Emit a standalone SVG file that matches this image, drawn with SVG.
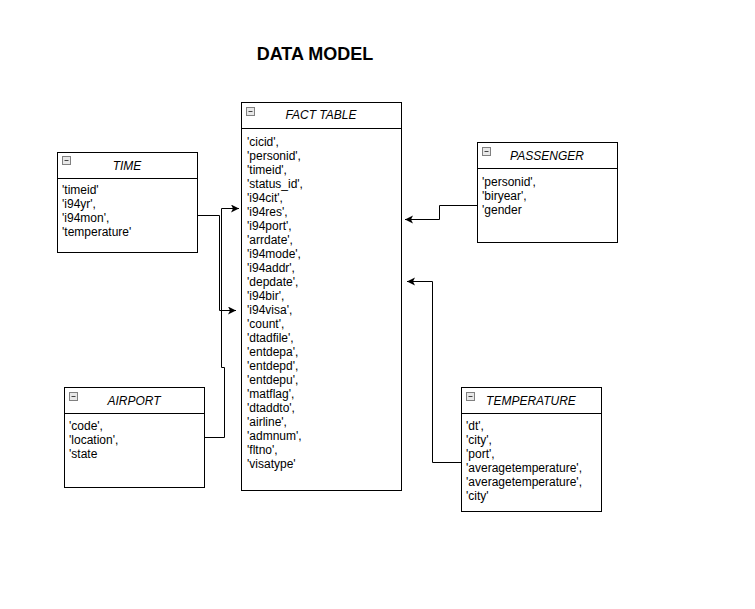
<svg xmlns="http://www.w3.org/2000/svg" width="755" height="609" viewBox="0 0 755 609">
<style>
.box{fill:#fff;stroke:#000;stroke-width:1}
.hd{stroke:#000;stroke-width:1}
.t{font-family:"Liberation Sans",Arial,sans-serif;font-size:12px;fill:#000}
.h{font-family:"Liberation Sans",Arial,sans-serif;font-size:12px;font-style:italic;fill:#000;text-anchor:middle}
.ico{fill:#e8e8e8;stroke:#808080;stroke-width:1}
.icm{stroke:#444;stroke-width:1}
.c{fill:none;stroke:#000;stroke-width:1}
</style>
<defs>
<marker id="arr" markerWidth="10" markerHeight="10" refX="8" refY="4" orient="auto" markerUnits="userSpaceOnUse">
<path d="M0,0 L8,4 L0,8 L2,4 Z" fill="#000"/>
</marker>
<g id="icon"><rect class="ico" x="0.5" y="0.5" width="8" height="8"/><line class="icm" x1="2.5" y1="4.5" x2="6.5" y2="4.5"/></g>
</defs>
<rect width="755" height="609" fill="#fff"/>
<text x="315" y="60" font-family="Liberation Sans,Arial,sans-serif" font-size="18" font-weight="bold" text-anchor="middle">DATA MODEL</text>

<g id="connectors">
<path class="c" d="M197.5,215.5 H219.5 V310.5 H236" marker-end="url(#arr)"/>
<path class="c" d="M205,437.5 H224.5 V367.5 H221.5 V208.5 H239" marker-end="url(#arr)"/>
<path class="c" d="M477,205.5 H439.5 V219.5 H405" marker-end="url(#arr)"/>
<path class="c" d="M461,462.5 H432.5 V281.5 H407" marker-end="url(#arr)"/>
</g>

<g id="fact">
<rect class="box" x="241.5" y="102.5" width="160" height="388"/>
<line class="hd" x1="241.5" y1="128.5" x2="401.5" y2="128.5"/>
<use href="#icon" x="246" y="107"/>
<text class="h" x="321" y="119">FACT TABLE</text>
<text class="t" x="247">
<tspan x="247" y="146">'cicid',</tspan>
<tspan x="247" y="160">'personid',</tspan>
<tspan x="247" y="174">'timeid',</tspan>
<tspan x="247" y="188">'status_id',</tspan>
<tspan x="247" y="202">'i94cit',</tspan>
<tspan x="247" y="216">'i94res',</tspan>
<tspan x="247" y="230">'i94port',</tspan>
<tspan x="247" y="244">'arrdate',</tspan>
<tspan x="247" y="258">'i94mode',</tspan>
<tspan x="247" y="272">'i94addr',</tspan>
<tspan x="247" y="286">'depdate',</tspan>
<tspan x="247" y="300">'i94bir',</tspan>
<tspan x="247" y="314">'i94visa',</tspan>
<tspan x="247" y="328">'count',</tspan>
<tspan x="247" y="342">'dtadfile',</tspan>
<tspan x="247" y="356">'entdepa',</tspan>
<tspan x="247" y="370">'entdepd',</tspan>
<tspan x="247" y="384">'entdepu',</tspan>
<tspan x="247" y="398">'matflag',</tspan>
<tspan x="247" y="412">'dtaddto',</tspan>
<tspan x="247" y="426">'airline',</tspan>
<tspan x="247" y="440">'admnum',</tspan>
<tspan x="247" y="454">'fltno',</tspan>
<tspan x="247" y="468">'visatype'</tspan>
</text>
</g>

<g id="time">
<rect class="box" x="57.5" y="152.5" width="140" height="100"/>
<line class="hd" x1="57.5" y1="178.5" x2="197.5" y2="178.5"/>
<use href="#icon" x="62" y="156"/>
<text class="h" x="127" y="170">TIME</text>
<text class="t">
<tspan x="62" y="194">'timeid'</tspan>
<tspan x="62" y="208">'i94yr',</tspan>
<tspan x="62" y="222">'i94mon',</tspan>
<tspan x="62" y="236">'temperature'</tspan>
</text>
</g>

<g id="airport">
<rect class="box" x="64.5" y="387.5" width="140" height="100"/>
<line class="hd" x1="64.5" y1="413.5" x2="204.5" y2="413.5"/>
<use href="#icon" x="69" y="392"/>
<text class="h" x="134" y="405">AIRPORT</text>
<text class="t">
<tspan x="69" y="430">'code',</tspan>
<tspan x="69" y="444">'location',</tspan>
<tspan x="69" y="458">'state</tspan>
</text>
</g>

<g id="passenger">
<rect class="box" x="477.5" y="142.5" width="140" height="100"/>
<line class="hd" x1="477.5" y1="168.5" x2="617.5" y2="168.5"/>
<use href="#icon" x="482" y="147"/>
<text class="h" x="547" y="160">PASSENGER</text>
<text class="t">
<tspan x="482" y="186">'personid',</tspan>
<tspan x="482" y="200">'biryear',</tspan>
<tspan x="482" y="214">'gender</tspan>
</text>
</g>

<g id="temperature">
<rect class="box" x="461.5" y="387.5" width="140" height="124"/>
<line class="hd" x1="461.5" y1="413.5" x2="601.5" y2="413.5"/>
<use href="#icon" x="466" y="392"/>
<text class="h" x="531" y="405">TEMPERATURE</text>
<text class="t">
<tspan x="466" y="430">'dt',</tspan>
<tspan x="466" y="444">'city',</tspan>
<tspan x="466" y="458">'port',</tspan>
<tspan x="466" y="472">'averagetemperature',</tspan>
<tspan x="466" y="486">'averagetemperature',</tspan>
<tspan x="466" y="500">'city'</tspan>
</text>
</g>
</svg>
